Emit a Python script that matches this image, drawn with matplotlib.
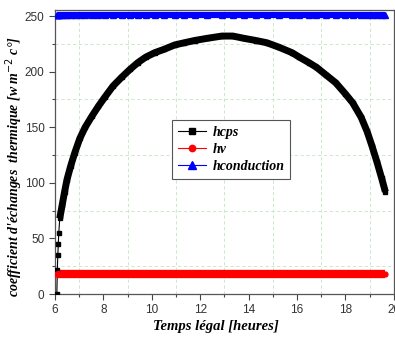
import matplotlib
matplotlib.use("Agg")
import matplotlib.pyplot as plt
from matplotlib.ticker import MultipleLocator

# temps legal (heures) and coefficients
t = [6.08, 6.10, 6.12, 6.14, 6.16, 6.20, 6.30, 6.40, 6.50, 6.65, 6.82, 7.03,
     7.25, 7.53, 7.80, 8.06, 8.40, 8.76, 9.10, 9.42, 9.75, 10.12, 10.50, 10.95,
     11.35, 11.77, 12.30, 12.90, 13.35, 13.80, 14.30, 14.75, 15.25, 15.80, 16.10,
     16.50, 16.80, 17.20, 17.60, 18.00, 18.30, 18.65, 18.90, 19.10, 19.30, 19.50,
     19.65]
hcps = [0, 22, 35, 45, 55, 68, 80, 92, 103, 115, 127, 140,
        150, 160, 169, 177, 187, 195, 202, 208, 213, 217, 220, 224,
        226, 228, 230, 232, 232, 230, 228, 226, 222, 217, 213,
        208, 204, 197, 190, 180, 172, 159, 146, 133, 119, 104,
        92]
hv = [18] * len(t)
hconduction = [251] * len(t)

serif = "Liberation Serif"
fig = plt.figure(figsize=(3.95, 3.38), dpi=100)
ax = fig.add_axes([0.139, 0.130, 0.858, 0.839])

# thick bands (the original markers are packed so densely they form a band)
ax.plot(t[5:], hcps[5:], color="black", lw=5, solid_capstyle="butt", zorder=3)
ax.plot(t, hv, color="red", lw=6, solid_capstyle="butt", zorder=3)
ax.plot(t, hconduction, color="blue", lw=4.5, solid_capstyle="butt", zorder=3)

ax.plot(t, hcps, "-s", color="black", lw=0.8, ms=3.5, label="hcps", zorder=4)
ax.plot(t, hv, "-o", color="red", lw=0.8, ms=3.5, label="hv", zorder=4)
ax.plot(t, hconduction, "-^", color="blue", lw=0.8, ms=4, label="hconduction", zorder=4)

ax.set_xlim(6, 20)
ax.set_ylim(0, 255)
ax.xaxis.set_major_locator(MultipleLocator(2))
ax.xaxis.set_minor_locator(MultipleLocator(1))
ax.yaxis.set_major_locator(MultipleLocator(50))
ax.yaxis.set_minor_locator(MultipleLocator(25))
ax.grid(which="minor", color="#c4e4c4", linestyle=(0, (4, 3)), linewidth=0.6)
ax.grid(which="major", visible=False)

ax.tick_params(which="both", direction="out", color="#444444",
               top=False, right=False)
ax.tick_params(which="major", length=4, width=0.8, labelsize=8.5,
               labelcolor="#333333")
ax.tick_params(which="minor", length=2.5, width=0.8)
for lab in ax.get_xticklabels() + ax.get_yticklabels():
    lab.set_family("Liberation Sans")
for s in ax.spines.values():
    s.set_color("#555555")
    s.set_linewidth(0.9)

ax.set_xlabel("Temps légal [heures]", family=serif, style="italic",
              fontweight="bold", fontsize=10.5)
ax.xaxis.set_label_coords(0.475, -0.092)
ax.set_ylabel(r"coefficient d'échanges  thermique [w m$^{-2}$ c°]", family=serif,
              style="italic", fontweight="bold", fontsize=10)
ax.yaxis.set_label_coords(-0.087, 0.448)

leg = ax.legend(loc="center", bbox_to_anchor=(0.52, 0.51), fancybox=False,
                edgecolor="#555555", framealpha=1, handlelength=2.0,
                markerscale=1.3, borderpad=0.4, labelspacing=0.3,
                handletextpad=0.5,
                prop={"family": serif, "style": "italic", "weight": "bold",
                      "size": 10})
leg.get_frame().set_linewidth(0.8)

fig.savefig("out.png", dpi=100)
